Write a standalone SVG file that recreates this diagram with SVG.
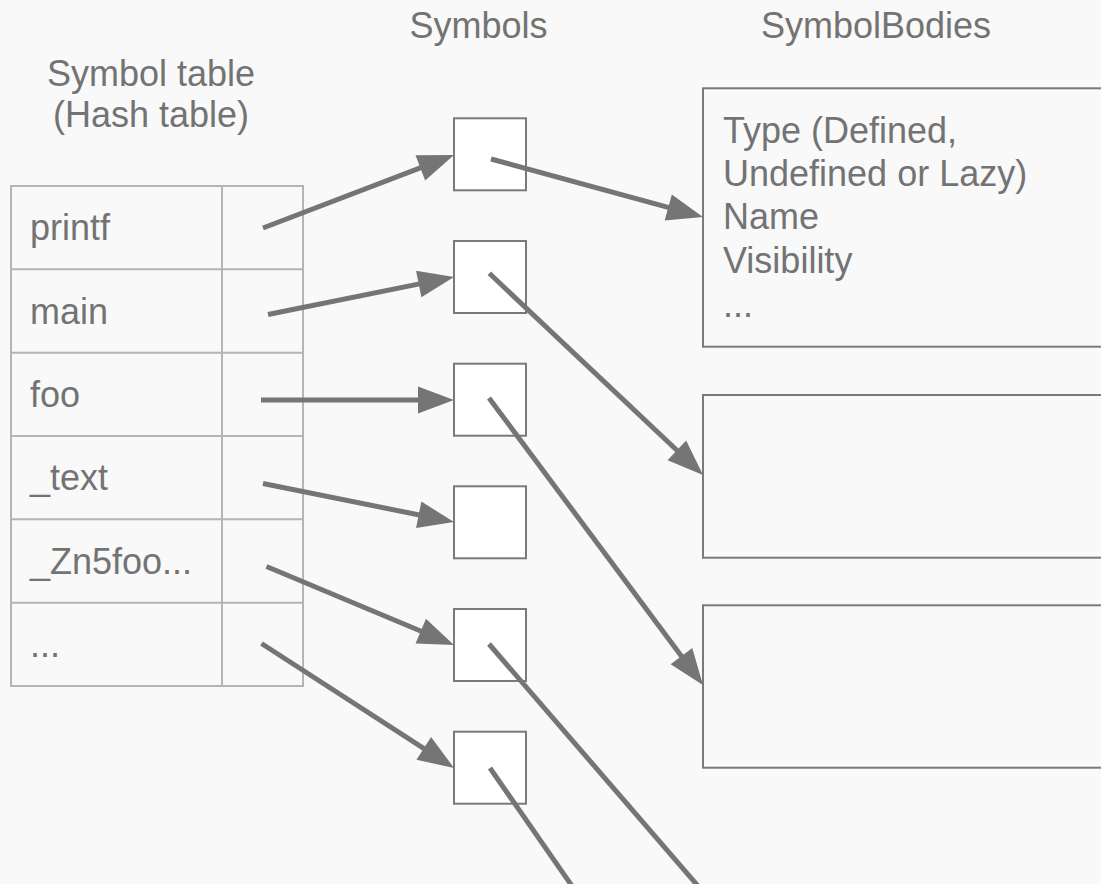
<svg xmlns="http://www.w3.org/2000/svg" width="1101" height="884" viewBox="0 0 1101 884">
  <defs>
    <style>
      .txt { font-family: "Liberation Sans", Arial, sans-serif; font-size: 36px; fill: #737373; }
      .cell { fill: none; stroke: #b5b5b5; stroke-width: 2; }
      .sym { fill: #ffffff; stroke: #7a7a7a; stroke-width: 2; }
      .body { fill: #f9f9f9; stroke: #7a7a7a; stroke-width: 2; }
      .conn { fill: none; stroke: #757575; stroke-width: 5; }
    </style>
    <marker id="arrow" markerUnits="userSpaceOnUse" markerWidth="36" markerHeight="27" refX="16" refY="13.5" orient="auto" overflow="visible">
      <path d="M0,0 L36,13.5 L0,27 z" fill="#757575"/>
    </marker>
  </defs>
  <rect x="0" y="0" width="1101" height="884" fill="#f9f9f9"/>

  <g id="titles">
    <text class="txt" x="151" y="86" text-anchor="middle">Symbol table</text>
    <text class="txt" x="151" y="127" text-anchor="middle">(Hash table)</text>
    <text class="txt" x="478.5" y="38" text-anchor="middle">Symbols</text>
    <text class="txt" x="876" y="38" text-anchor="middle">SymbolBodies</text>
  </g>

  <g id="symbol-table">
    <rect class="cell" x="11" y="186" width="292" height="500"/>
    <line class="cell" x1="222" y1="186" x2="222" y2="686"/>
    <line class="cell" x1="11" y1="269.3" x2="303" y2="269.3"/>
    <line class="cell" x1="11" y1="352.7" x2="303" y2="352.7"/>
    <line class="cell" x1="11" y1="436" x2="303" y2="436"/>
    <line class="cell" x1="11" y1="519.3" x2="303" y2="519.3"/>
    <line class="cell" x1="11" y1="602.7" x2="303" y2="602.7"/>
    <text class="txt" x="30" y="240">printf</text>
    <text class="txt" x="30" y="323.5">main</text>
    <text class="txt" x="30" y="407">foo</text>
    <text class="txt" x="30" y="490">_text</text>
    <text class="txt" x="30" y="573.5">_Zn5foo...</text>
    <text class="txt" x="30" y="657">...</text>
  </g>

  <g id="symbol-1"><rect class="sym" x="454" y="118.3" width="72" height="72"/></g>
  <g id="symbol-2"><rect class="sym" x="454" y="241" width="72" height="72"/></g>
  <g id="symbol-3"><rect class="sym" x="454" y="363.7" width="72" height="72"/></g>
  <g id="symbol-4"><rect class="sym" x="454" y="486.3" width="72" height="72"/></g>
  <g id="symbol-5"><rect class="sym" x="454" y="609" width="72" height="72"/></g>
  <g id="symbol-6"><rect class="sym" x="454" y="731.7" width="72" height="72"/></g>

  <g id="body-1">
    <rect class="body" x="703" y="88.3" width="410" height="258.4"/>
    <text class="txt" x="723" y="143">Type (Defined,</text>
    <text class="txt" x="723" y="186.2">Undefined or Lazy)</text>
    <text class="txt" x="723" y="229.4">Name</text>
    <text class="txt" x="723" y="272.6">Visibility</text>
    <text class="txt" x="723" y="316.5">...</text>
  </g>
  <g id="body-2"><rect class="body" x="703" y="395" width="410" height="162.7"/></g>
  <g id="body-3"><rect class="body" x="703" y="605.3" width="410" height="162.4"/></g>

  <g id="connectors">
    <line class="conn" x1="263" y1="228" x2="435.3" y2="162.1" marker-end="url(#arrow)"/>
    <line class="conn" x1="268" y1="314.5" x2="434.4" y2="280.9" marker-end="url(#arrow)"/>
    <line class="conn" x1="261" y1="400" x2="434" y2="400" marker-end="url(#arrow)"/>
    <line class="conn" x1="263" y1="483.5" x2="434.4" y2="518" marker-end="url(#arrow)"/>
    <line class="conn" x1="266.5" y1="566.5" x2="435.5" y2="637.3" marker-end="url(#arrow)"/>
    <line class="conn" x1="261.5" y1="643.5" x2="437.2" y2="757.1" marker-end="url(#arrow)"/>
    <line class="conn" x1="491" y1="159" x2="683.7" y2="211.7" marker-end="url(#arrow)"/>
    <line class="conn" x1="489.3" y1="273.3" x2="688.5" y2="461.3" marker-end="url(#arrow)"/>
    <line class="conn" x1="489" y1="398" x2="691" y2="669" marker-end="url(#arrow)"/>
    <line class="conn" x1="489" y1="644" x2="698" y2="886"/>
    <line class="conn" x1="490" y1="768" x2="572" y2="886"/>
  </g>
</svg>
